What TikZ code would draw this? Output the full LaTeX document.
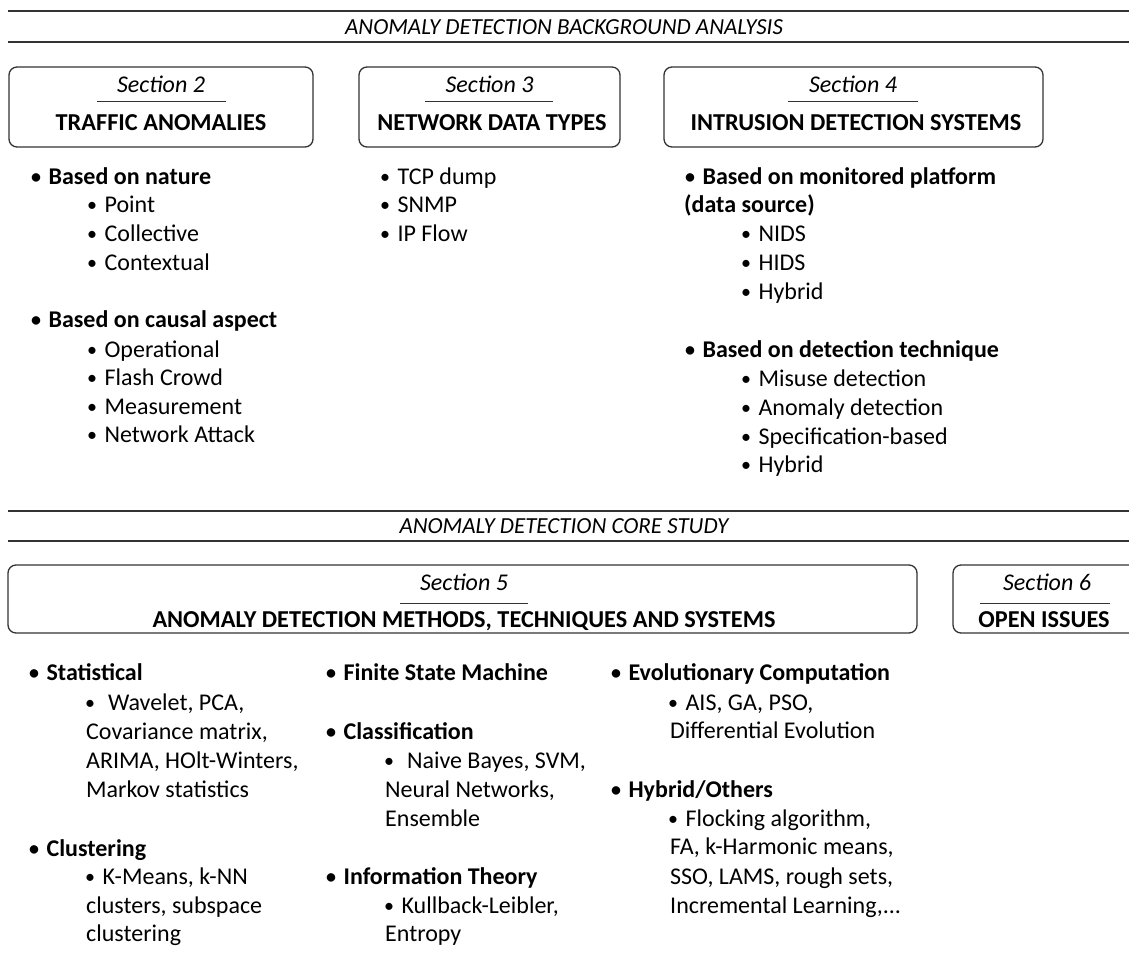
\documentclass[tikz,border=0pt]{standalone}
\usepackage{fontspec}
\setmainfont{Carlito}
\newcommand\bul{\raisebox{0.8pt}{\fontsize{20}{20}\selectfont •}\kern2pt\ }
\begin{document}
\begin{tikzpicture}[x=1pt,y=-1pt,
  rule/.style={line width=1.4pt,draw=black!80},
  sectbox/.style={draw=black!80,line width=1.3pt,rounded corners=8pt,inner sep=0pt},
  sepline/.style={line width=1pt,draw=black!80},
  hdr/.style={font=\fontsize{23}{26}\itshape\selectfont,inner sep=0pt},
  slabel/.style={font=\fontsize{24}{28}\itshape\selectfont,inner sep=0pt},
  stitle/.style={font=\fontsize{24.3}{28}\bfseries\selectfont,inner sep=0pt,text height=0.7em,text depth=0.2em},
  itm/.style={font=\fontsize{24}{28}\selectfont,anchor=west,inner sep=0pt,text height=1em,text depth=0.08em},
  bitm/.style={itm,font=\fontsize{24}{28}\bfseries\selectfont}
]
\useasboundingbox (0,0) rectangle (1129,976);
\clip (0,0) rectangle (1129,976);

% ---------- top header ----------
\coordinate (t1a) at (8,11);  \coordinate (t1b) at (1135,11);
\coordinate (t2a) at (8,42);  \coordinate (t2b) at (1135,42);
\draw[rule] (t1a) -- (t1b);
\draw[rule] (t2a) -- (t2b);
\node[hdr] (hdr1) at (564,27) {ANOMALY DETECTION BACKGROUND ANALYSIS};

% ---------- section boxes (top) ----------
\node[sectbox,minimum width=304pt,minimum height=80pt] (b2) at (161,107) {};
\node[slabel] (s2) at (161,84) {Section 2};
\coordinate (l2a) at (97,102); \coordinate (l2b) at (226,102);
\draw[sepline] (l2a) -- (l2b);
\node[stitle] (t2) at (161,128) {TRAFFIC ANOMALIES};

\node[sectbox,minimum width=261pt,minimum height=80pt] (b3) at (489.5,107) {};
\node[slabel] (s3) at (489.5,84) {Section 3};
\coordinate (l3a) at (425,102); \coordinate (l3b) at (553,102);
\draw[sepline] (l3a) -- (l3b);
\node[stitle] (t3) at (492,128) {NETWORK DATA TYPES};

\node[sectbox,minimum width=379pt,minimum height=80pt] (b4) at (853.5,107) {};
\node[slabel] (s4) at (853,84) {Section 4};
\coordinate (l4a) at (788,102); \coordinate (l4b) at (918,102);
\draw[sepline] (l4a) -- (l4b);
\node[stitle] (t4) at (856,128) {INTRUSION DETECTION SYSTEMS};

% ---------- section 2 list ----------
\node[bitm] (a1) at (31,180) {\bul Based on nature};
\node[itm] (a2) at (87,208) {\bul Point};
\node[itm] (a3) at (87,237) {\bul Collective};
\node[itm] (a4) at (87,266) {\bul Contextual};
\node[bitm] (a5) at (31,323) {\bul Based on causal aspect};
\node[itm] (a6) at (87,353) {\bul Operational};
\node[itm] (a7) at (87,381) {\bul Flash Crowd};
\node[itm] (a8) at (87,410) {\bul Measurement};
\node[itm] (a9) at (87,438) {\bul Network Attack};

% ---------- section 3 list ----------
\node[itm] (c1) at (380,180) {\bul TCP dump};
\node[itm] (c2) at (380,208) {\bul SNMP};
\node[itm] (c3) at (380,237) {\bul IP Flow};

% ---------- section 4 list ----------
\node[bitm] (d1) at (685,180) {\bul Based on monitored platform};
\node[bitm] (d2) at (684,208) {(data source)};
\node[itm] (d3) at (741,237) {\bul NIDS};
\node[itm] (d4) at (741,266) {\bul HIDS};
\node[itm] (d5) at (741,295) {\bul Hybrid};
\node[bitm] (d6) at (685,353) {\bul Based on detection technique};
\node[itm] (d7) at (741,382) {\bul Misuse detection};
\node[itm] (d8) at (741,411) {\bul Anomaly detection};
\node[itm] (d9) at (741,440) {\bul Specification-based};
\node[itm] (d10) at (741,468) {\bul Hybrid};

% ---------- middle header ----------
\coordinate (m1a) at (8,511);  \coordinate (m1b) at (1135,511);
\coordinate (m2a) at (8,541);  \coordinate (m2b) at (1135,541);
\draw[rule] (m1a) -- (m1b);
\draw[rule] (m2a) -- (m2b);
\node[hdr] (hdr2) at (564,526) {ANOMALY DETECTION CORE STUDY};

% ---------- section boxes (bottom) ----------
\node[sectbox,minimum width=909pt,minimum height=68pt] (b5) at (462.5,599) {};
\node[slabel] (s5) at (464,582) {Section 5};
\coordinate (l5a) at (400,603); \coordinate (l5b) at (528,603);
\draw[sepline] (l5a) -- (l5b);
\node[stitle] (t5) at (464,625) {ANOMALY DETECTION METHODS, TECHNIQUES AND SYSTEMS};

\node[sectbox,minimum width=190pt,minimum height=68pt] (b6) at (1048,599) {};
\node[slabel] (s6) at (1047,582) {Section 6};
\coordinate (l6a) at (980,603); \coordinate (l6b) at (1110,603);
\draw[sepline] (l6a) -- (l6b);
\node[stitle] (t6) at (1044,625) {OPEN ISSUES};

% ---------- section 5 column 1 ----------
\node[bitm] (e1) at (29,676) {\bul Statistical};
\node[itm] (e2) at (85,706) {\bul\ Wavelet, PCA,};
\node[itm] (e3) at (86,735) {Covariance matrix,};
\node[itm] (e4) at (86,764) {ARIMA, HOlt-Winters,};
\node[itm] (e5) at (86,793) {Markov statistics};
\node[bitm] (e6) at (29,852) {\bul Clustering};
\node[itm] (e7) at (85,880) {\bul K-Means, k-NN};
\node[itm] (e8) at (86,909) {clusters, subspace};
\node[itm] (e9) at (86,937) {clustering};

% ---------- section 5 column 2 ----------
\node[bitm] (f1) at (326,676) {\bul Finite State Machine};
\node[bitm] (f2) at (326,735) {\bul Classification};
\node[itm] (f3) at (384,764) {\bul\ Naive Bayes, SVM,};
\node[itm] (f4) at (385,793) {Neural Networks,};
\node[itm] (f5) at (385,822) {Ensemble};
\node[bitm] (f6) at (326,880) {\bul Information Theory};
\node[itm] (f7) at (384,909) {\bul Kullback-Leibler,};
\node[itm] (f8) at (385,937) {Entropy};

% ---------- section 5 column 3 ----------
\node[bitm] (g1) at (611,676) {\bul Evolutionary Computation};
\node[itm] (g2) at (668,706) {\bul AIS, GA, PSO,};
\node[itm] (g3) at (670,734) {Differential Evolution};
\node[bitm] (g4) at (611,793) {\bul Hybrid/Others};
\node[itm] (g5) at (668,822) {\bul Flocking algorithm,};
\node[itm] (g6) at (670,850) {FA, k-Harmonic means,};
\node[itm] (g7) at (670,880) {SSO, LAMS, rough sets,};
\node[itm] (g8) at (670,909) {Incremental Learning,...};
\end{tikzpicture}
\end{document}
